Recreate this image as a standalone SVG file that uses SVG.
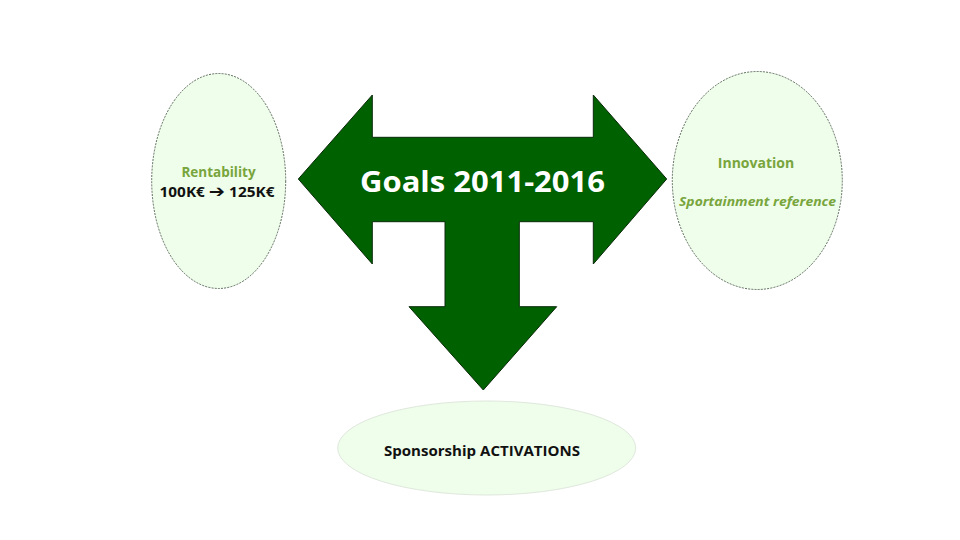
<svg xmlns="http://www.w3.org/2000/svg" width="960" height="540" viewBox="0 0 960 540">
<style>
.oval{fill:#effdeb;stroke:#3a4a3a;stroke-width:0.8;stroke-dasharray:2,1.2}
.soft{fill:#effdeb;stroke:#dfe8dc;stroke-width:1}
.t{font-family:"Open Sans","Liberation Sans",sans-serif;font-weight:bold;text-anchor:middle}
.g{fill:#78a53c}
.k{fill:#111}
</style>
<rect width="960" height="540" fill="#fff"/>
<g id="rentability">
<ellipse class="oval" cx="218.7" cy="181" rx="67" ry="107.5"/>
<text class="t g" x="218.5" y="176.5" font-size="13.5">Rentability</text>
<text class="t k" x="217" y="197" font-size="13.5" textLength="115" lengthAdjust="spacingAndGlyphs">100K€ <tspan font-family="'DejaVu Sans',sans-serif" font-size="17">➔</tspan> 125K€</text>
</g>
<g id="innovation">
<ellipse class="oval" cx="757.3" cy="180.5" rx="85" ry="109"/>
<text class="t g" x="756" y="167.5" font-size="14">Innovation</text>
<text class="t g" x="757.5" y="205.5" font-size="12.5" font-style="italic" textLength="157" lengthAdjust="spacingAndGlyphs">Sportainment reference</text>
</g>
<g id="activations">
<ellipse class="soft" cx="486.7" cy="448" rx="149" ry="47"/>
<text class="t k" x="482" y="455.5" font-size="14" textLength="196" lengthAdjust="spacingAndGlyphs">Sponsorship ACTIVATIONS</text>
</g>
<g id="goals">
<path d="M298.3,179 L372.3,95 L372.3,137.3 L593.3,137.3 L593.3,95 L666.7,179 L593.3,264 L593.3,221.7 L519.3,221.7 L519.3,306.7 L556.7,306.7 L483.3,390 L409,306.7 L445,306.7 L445,221.7 L372.3,221.7 L372.3,264 Z" fill="#006100" stroke="#0a2a0a" stroke-width="1"/>
<text class="t" x="482.5" y="192" font-size="29" fill="#fff" textLength="245" lengthAdjust="spacingAndGlyphs">Goals 2011-2016</text>
</g>
<g id="connectors"/>
</svg>
